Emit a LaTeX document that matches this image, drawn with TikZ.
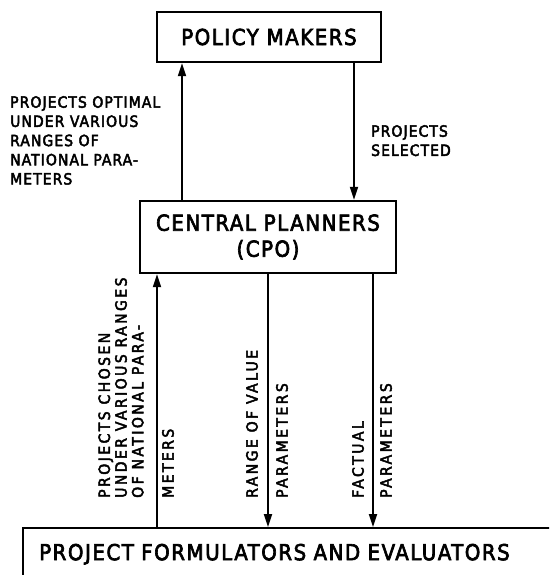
\documentclass[tikz,border=0pt]{standalone}
\usepackage{fontspec}
\setmainfont{DejaVu Sans Condensed}[LetterSpace=7, FakeBold=3]
\usetikzlibrary{arrows.meta}

\begin{document}
\begin{tikzpicture}[x=1pt, y=-1pt,
  box/.style={draw, line width=2.4pt, inner sep=0pt, font=\fontsize{22}{26}\selectfont},
  flow/.style={-{Triangle[length=13pt,width=8pt]}, line width=1.8pt},
  lbl/.style={inner sep=0pt, align=left, font=\fontsize{15.5}{19.2}\selectfont},
  vlbl/.style={lbl, rotate=90, anchor=west, font=\fontsize{15.5}{16.7}\selectfont\addfontfeature{LetterSpace=16}}]
  \useasboundingbox (0,0) rectangle (549,575);
  \clip (0,0) rectangle (549,575);
  % boxes
  \node[box, minimum width=224, minimum height=50] (pm) at (269,37) {POLICY MAKERS};
  \node[box, minimum width=256, minimum height=72, align=center] (cpo) at (268,237) {CENTRAL PLANNERS\\(CPO)};
  \node[box, anchor=north west, minimum height=52, text width=528, inner xsep=16pt, align=left] (pfe) at (22,527) {PROJECT FORMULATORS AND EVALUATORS};
  % flows between levels
  \draw[flow] (182,0 |- cpo.north) -- (182,0 |- pm.south);
  \draw[flow] (354,0 |- pm.south) -- (354,0 |- cpo.north);
  \draw[flow] (157,0 |- pfe.north) -- (157,0 |- cpo.south);
  \draw[flow] (268,0 |- cpo.south) -- (268,0 |- pfe.north);
  \draw[flow] (373,0 |- cpo.south) -- (373,0 |- pfe.north);
  % labels
  \node[lbl, anchor=north west] (optimal) at (10,96) {PROJECTS OPTIMAL\\UNDER VARIOUS\\RANGES OF\\NATIONAL PARA-\\METERS};
  \node[lbl, anchor=north west] (selected) at (371,125) {PROJECTS\\SELECTED};
  \node[vlbl] (chosen) at (121,498) {PROJECTS CHOSEN\\UNDER VARIOUS RANGES\\OF NATIONAL PARA-};
  \node[vlbl] (meters) at (168,498) {METERS};
  \node[vlbl] (range) at (252,498) {RANGE OF VALUE};
  \node[vlbl] (valpar) at (282,498) {PARAMETERS};
  \node[vlbl] (factual) at (358,498) {FACTUAL};
  \node[vlbl] (factpar) at (386,498) {PARAMETERS};
\end{tikzpicture}
\end{document}
